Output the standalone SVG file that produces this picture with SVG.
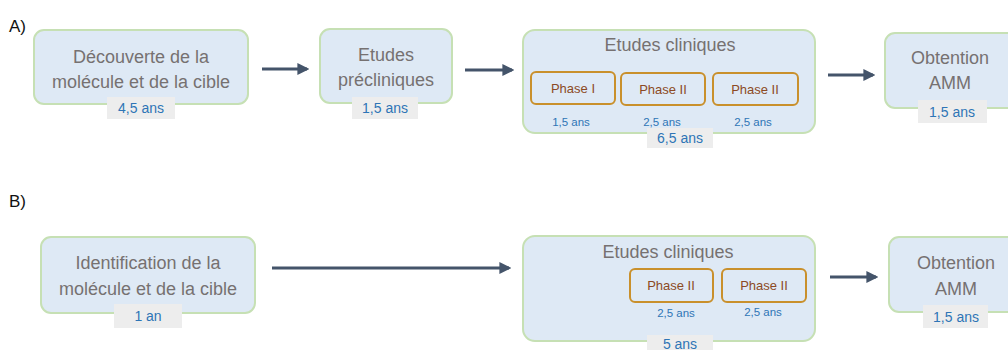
<svg xmlns="http://www.w3.org/2000/svg" width="1008" height="350" viewBox="0 0 1008 350">
<defs>
<style>
.box{fill:#dee9f5;stroke:#c6e0b4;stroke-width:2}
.ph{fill:#dee9f5;stroke:#c9902c;stroke-width:2}
.t{font-family:"Liberation Sans",Arial,sans-serif;font-size:18px;fill:#767171;text-anchor:middle}
.pt{font-family:"Liberation Sans",Arial,sans-serif;font-size:13px;fill:#8c4a24;text-anchor:middle}
.dur{font-family:"Liberation Sans",Arial,sans-serif;font-size:11.5px;fill:#2e75b6;text-anchor:middle}
.lb{fill:#ededed}
.lt{font-family:"Liberation Sans",Arial,sans-serif;font-size:14px;fill:#2e75b6;text-anchor:middle}
.sec{font-family:"Liberation Sans",Arial,sans-serif;font-size:17px;fill:#111}
.c{stroke:#44546a;stroke-width:3;fill:none;marker-end:url(#ah)}
</style>
<marker id="ah" viewBox="0 0 10 10" refX="8" refY="5" markerWidth="4" markerHeight="4" orient="auto" markerUnits="strokeWidth">
<path d="M0,0 L10,5 L0,10 Z" fill="#44546a"/>
</marker>
</defs>
<text class="sec" x="9" y="32">A)</text>
<text class="sec" x="9" y="207">B)</text>
<g id="connectors">
<line class="c" x1="262" y1="69" x2="307" y2="69"/>
<line class="c" x1="465" y1="70" x2="512" y2="70"/>
<line class="c" x1="828" y1="75" x2="873" y2="75"/>
<line class="c" x1="272" y1="268" x2="509" y2="268"/>
<line class="c" x1="830" y1="277" x2="876" y2="277"/>
</g>
<g id="a1">
<rect class="box" x="34" y="30" width="214" height="74" rx="10"/>
<text class="t" x="141" y="63">Découverte de la</text>
<text class="t" x="141" y="88">molécule et de la cible</text>
<rect class="lb" x="107" y="97" width="68" height="22"/>
<text class="lt" x="141" y="113">4,5 ans</text>
</g>
<g id="a2">
<rect class="box" x="320" y="29" width="132" height="74" rx="10"/>
<text class="t" x="386" y="61">Etudes</text>
<text class="t" x="386" y="86">précliniques</text>
<rect class="lb" x="352" y="97" width="66" height="22"/>
<text class="lt" x="385" y="113">1,5 ans</text>
</g>
<g id="a3">
<rect class="box" x="523" y="30" width="292" height="103" rx="12"/>
<text class="t" x="670" y="51">Etudes cliniques</text>
<rect class="ph" x="531" y="72" width="84" height="32" rx="5"/>
<text class="pt" x="573" y="93">Phase I</text>
<rect class="ph" x="621" y="73" width="84" height="32" rx="5"/>
<text class="pt" x="663" y="94">Phase II</text>
<rect class="ph" x="713" y="73" width="85" height="32" rx="5"/>
<text class="pt" x="755" y="94">Phase II</text>
<text class="dur" x="571" y="126">1,5 ans</text>
<text class="dur" x="662" y="126">2,5 ans</text>
<text class="dur" x="753" y="126">2,5 ans</text>
<rect class="lb" x="647" y="128" width="66" height="20"/>
<text class="lt" x="680" y="143">6,5 ans</text>
</g>
<g id="a4">
<rect class="box" x="885" y="33" width="140" height="75" rx="10"/>
<text class="t" x="950" y="64">Obtention</text>
<text class="t" x="950" y="89">AMM</text>
<rect class="lb" x="918" y="100" width="69" height="23"/>
<text class="lt" x="952" y="117">1,5 ans</text>
</g>
<g id="b1">
<rect class="box" x="41" y="237" width="214" height="76" rx="10"/>
<text class="t" x="148" y="269">Identification de la</text>
<text class="t" x="148" y="295">molécule et de la cible</text>
<rect class="lb" x="114" y="304" width="68" height="24"/>
<text class="lt" x="148" y="321">1 an</text>
</g>
<g id="b2">
<rect class="box" x="523" y="236" width="292" height="105" rx="12"/>
<text class="t" x="668" y="258">Etudes cliniques</text>
<rect class="ph" x="630" y="269" width="83" height="33" rx="5"/>
<text class="pt" x="671" y="290">Phase II</text>
<rect class="ph" x="722" y="269" width="84" height="33" rx="5"/>
<text class="pt" x="764" y="290">Phase II</text>
<text class="dur" x="676" y="317">2,5 ans</text>
<text class="dur" x="763" y="316">2,5 ans</text>
<rect class="lb" x="647" y="335" width="66" height="20"/>
<text class="lt" x="680" y="349">5 ans</text>
</g>
<g id="b3">
<rect class="box" x="889" y="237" width="140" height="75" rx="10"/>
<text class="t" x="956" y="269">Obtention</text>
<text class="t" x="956" y="295">AMM</text>
<rect class="lb" x="923" y="305" width="65" height="23"/>
<text class="lt" x="956" y="322">1,5 ans</text>
</g>
</svg>
